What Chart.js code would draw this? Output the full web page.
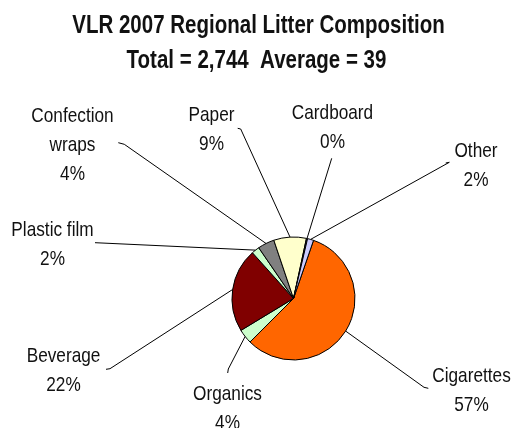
<!DOCTYPE html>
<html>
<head>
<meta charset="utf-8">
<script src="https://cdn.jsdelivr.net/npm/chart.js@4.4.1/dist/chart.umd.min.js"></script>
<style>
  html, body { margin: 0; padding: 0; background: #ffffff; }
  #wrap { width: 512px; height: 428px; }
</style>
</head>
<body>
<div id="wrap"><canvas id="c" width="512" height="428"></canvas></div>
<script>
// ---- data ----
const titleLine1 = 'VLR 2007 Regional Litter Composition';
const titleLine2 = 'Total = 2,744  Average = 39';
const categories = ['Cigarettes', 'Organics', 'Beverage', 'Plastic film', 'Confection wraps', 'Paper', 'Cardboard', 'Other'];
const counts = [1570, 105, 605, 57, 120, 235, 8, 44];
const sliceColors = ['#FF6600', '#CCFFCC', '#800000', '#CCFFCC', '#808080', '#FFFFCC', '#333366', '#CCCCFF'];
const wrappedNames = { 'Confection wraps': ['Confection', 'wraps'] };

// ---- layout (label anchor: centre x, first baseline y; leader elbow points) ----
const labelLayout = [
  { x: 471.5, y: 381.7, p1: [428.3, 388.3], p2: [424.0, 387.3] },
  { x: 227.5, y: 399.5, p1: [227.7, 373.0], p2: [228.3, 369.0] },
  { x: 63.5,  y: 362.3, p1: [106.0, 369.3], p2: [110.0, 368.7] },
  { x: 52.5,  y: 235.7, p1: [95.0, 242.7],  p2: [95.0, 242.7] },
  { x: 72.5,  y: 122.3, p1: [118.3, 142.7], p2: [124.3, 144.3] },
  { x: 211.5, y: 120.7, p1: [237.7, 128.3], p2: [240.7, 129.0] },
  { x: 332.5, y: 119.3, p1: [331.7, 158.3], p2: [331.7, 158.3] },
  { x: 476.0, y: 156.7, p1: [445.7, 163.0], p2: [449.3, 162.3] }
];
const lineHeight = 29;

let fontFamily = null, fontScale = 1;
function setupFont(ctx) {
  if (fontFamily) return;
  ctx.save();
  ctx.font = '40px "Liberation Sans Narrow", monospace';
  const a = ctx.measureText('Confection wraps').width;
  ctx.font = '40px monospace';
  const b = ctx.measureText('Confection wraps').width;
  ctx.restore();
  if (Math.abs(a - b) > 0.5) { fontFamily = '"Liberation Sans Narrow", "Arial Narrow"'; fontScale = 1; }
  else { fontFamily = '"Liberation Sans", Arial'; fontScale = 0.82; }
}
function drawText(ctx, text, x, y, size, bold) {
  ctx.save();
  ctx.font = (bold ? 'bold ' : '') + size + 'px ' + fontFamily;
  ctx.fillStyle = '#111111';
  ctx.textAlign = 'center';
  ctx.textBaseline = 'alphabetic';
  ctx.translate(x, y);
  ctx.scale(fontScale, 1);
  ctx.fillText(text, 0, 0);
  ctx.restore();
}

const total = counts.reduce((s, v) => s + v, 0);

const labelPlugin = {
  id: 'excelLabels',
  afterDraw(chart) {
    const ctx = chart.ctx;
    setupFont(ctx);
    // title
    drawText(ctx, titleLine1, 258.5, 33.3, 25, true);
    drawText(ctx, titleLine2, 256.5, 68.3, 25, true);
    const meta = chart.getDatasetMeta(0);
    meta.data.forEach((arc, i) => {
      const L = labelLayout[i];
      const mid = (arc.startAngle + arc.endAngle) / 2;
      const ex = arc.x + Math.cos(mid) * arc.outerRadius;
      const ey = arc.y + Math.sin(mid) * arc.outerRadius;
      ctx.save();
      ctx.strokeStyle = '#000000';
      ctx.lineWidth = 1;
      ctx.beginPath();
      ctx.moveTo(L.p1[0], L.p1[1]);
      ctx.lineTo(L.p2[0], L.p2[1]);
      ctx.lineTo(ex, ey);
      ctx.stroke();
      ctx.restore();
      const name = categories[i];
      const lines = (wrappedNames[name] || [name]).slice();
      lines.push(Math.round(counts[i] / total * 100) + '%');
      lines.forEach((t, k) => drawText(ctx, t, L.x, L.y + k * lineHeight, 21, false));
    });
  }
};

new Chart(document.getElementById('c'), {
  type: 'pie',
  data: {
    labels: categories,
    datasets: [{
      data: counts,
      backgroundColor: sliceColors,
      borderColor: '#000000',
      borderWidth: 1,
      radius: 61.5
    }]
  },
  options: {
    responsive: false,
    devicePixelRatio: 1,
    animation: false,
    rotation: 19,
    layout: { padding: { left: 150, right: 75, top: 200, bottom: 31 } },
    plugins: {
      legend: { display: false },
      title: { display: false },
      tooltip: { enabled: false }
    }
  },
  plugins: [labelPlugin]
});
</script>
</body>
</html>
